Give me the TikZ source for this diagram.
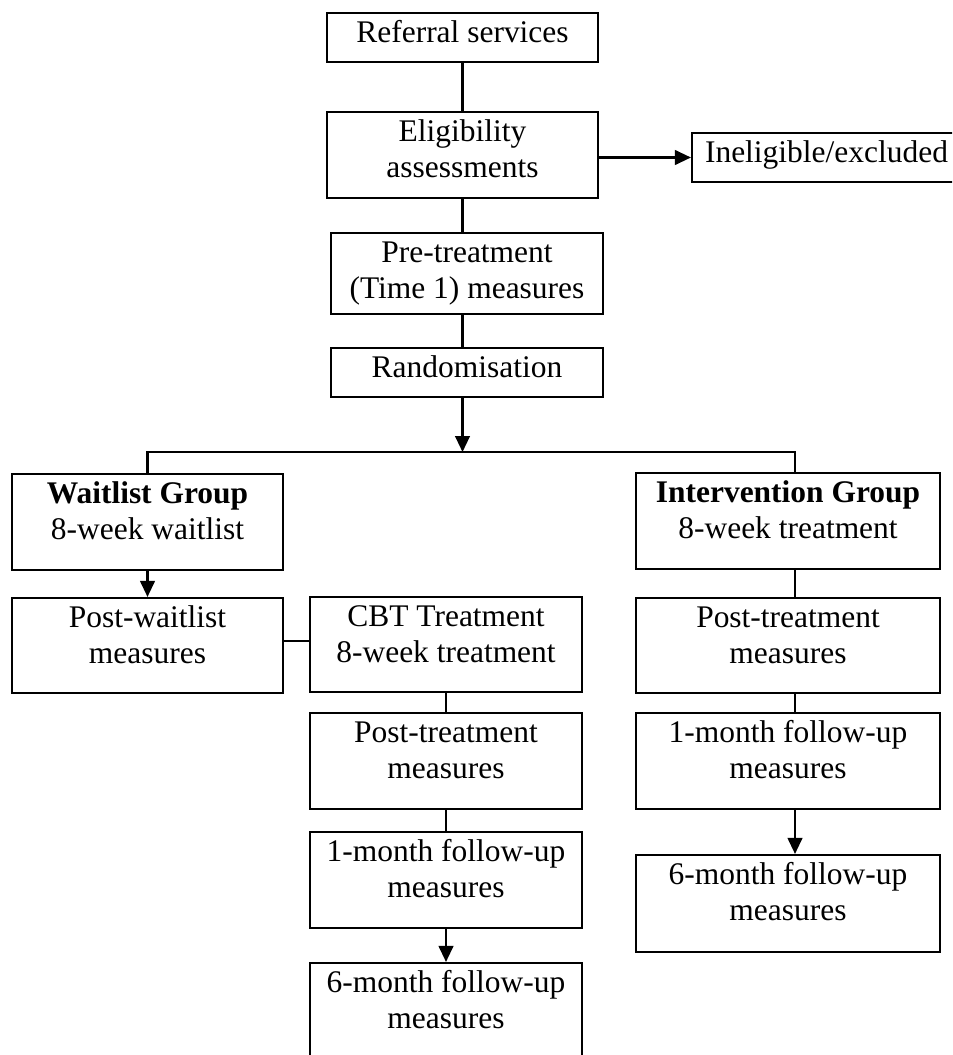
\documentclass[tikz,border=0pt]{standalone}
\usepackage{fontspec}
\setmainfont{Liberation Serif}
\usetikzlibrary{arrows.meta}
\newcommand\firstln{\rule{0pt}{20pt}}
\begin{document}
\begin{tikzpicture}[x=0.75pt,y=-0.75pt,
  bx/.style 2 args={draw, line width=1.6pt, inner sep=0pt, minimum width=#1*0.75pt, minimum height=#2*0.75pt},
  txt/.style={anchor=north, inner sep=0pt, align=center, font=\fontsize{23.6}{27}\selectfont},
  ln/.style={line width=1.6pt},
  arr/.style={line width=1.6pt, -{Triangle[length=12pt, width=11pt]}}]
\useasboundingbox (0,0) rectangle (952,1055);
\clip (0,0) rectangle (952,1055);

% boxes
\node[bx={271}{49}] (ref) at (462.5,37.5) {};
\node[bx={271}{86}] (elig) at (462.5,155) {};
\node[bx={269}{49}] (inel) at (826.5,157.5) {};
\node[bx={272}{81}] (pre) at (467,273.5) {};
\node[bx={272}{49}] (rand) at (467,372.5) {};
\node[bx={271}{96}] (wait) at (147.5,522) {};
\node[bx={304}{96}] (interv) at (788,521) {};
\node[bx={271}{95}] (postw) at (147.5,645.5) {};
\node[bx={272}{95}] (cbt) at (446,644.5) {};
\node[bx={272}{96}] (ptm) at (446,761) {};
\node[bx={272}{96}] (m1m) at (446,880) {};
\node[bx={272}{100}] (m6m) at (446,1013) {};
\node[bx={304}{95}] (ptr) at (788,645.5) {};
\node[bx={304}{96}] (m1r) at (788,761) {};
\node[bx={304}{97}] (m6r) at (788,903.5) {};

% texts
\node[txt] (ref-t) at ([yshift=-2.5pt]ref.north) {\firstln Referral services};
\node[txt] (elig-t) at ([yshift=-2.5pt]elig.north) {\firstln Eligibility\\assessments};
\node[txt] (inel-t) at ([yshift=-2.5pt]inel.north) {\firstln Ineligible/excluded};
\node[txt] (pre-t) at ([yshift=-2.5pt]pre.north) {\firstln Pre-treatment\\(Time 1) measures};
\node[txt] (rand-t) at ([yshift=-2.5pt]rand.north) {\firstln Randomisation};
\node[txt] (wait-t) at ([yshift=-2.5pt]wait.north) {\firstln\textbf{Waitlist Group}\\8-week waitlist};
\node[txt] (interv-t) at ([yshift=-2.5pt]interv.north) {\firstln\textbf{Intervention Group}\\8-week treatment};
\node[txt] (postw-t) at ([yshift=-2.5pt]postw.north) {\firstln Post-waitlist\\measures};
\node[txt] (cbt-t) at ([yshift=-2.5pt]cbt.north) {\firstln CBT Treatment\\8-week treatment};
\node[txt] (ptm-t) at ([yshift=-2.5pt]ptm.north) {\firstln Post-treatment\\measures};
\node[txt] (m1m-t) at ([yshift=-2.5pt]m1m.north) {\firstln 1-month follow-up\\measures};
\node[txt] (m6m-t) at ([yshift=-2.5pt]m6m.north) {\firstln 6-month follow-up\\measures};
\node[txt] (ptr-t) at ([yshift=-2.5pt]ptr.north) {\firstln Post-treatment\\measures};
\node[txt] (m1r-t) at ([yshift=-2.5pt]m1r.north) {\firstln 1-month follow-up\\measures};
\node[txt] (m6r-t) at ([yshift=-2.5pt]m6r.north) {\firstln 6-month follow-up\\measures};

% connectors
\coordinate (split) at (462.5,452);
\coordinate (splitL) at (147.5,452);
\coordinate (splitR) at (795,452);
\coordinate (jy) at (0,641);
\draw[ln] (ref.south) -- (elig.north);
\draw[arr] (elig.east |- inel.west) -- (inel.west);
\draw[ln] (elig.south) -- (elig.south |- pre.north);
\draw[ln] (pre.south -| split) -- (rand.north -| split);
\draw[arr] (rand.south -| split) -- (split);
\draw[ln] (wait.north) -- (splitL) -- (splitR) -- (splitR |- interv.north);
\draw[arr] (wait.south) -- (postw.north);
\draw[ln] (postw.east |- jy) -- (cbt.west |- jy);
\draw[ln] (cbt.south) -- (ptm.north);
\draw[ln] (ptm.south) -- (m1m.north);
\draw[arr] (m1m.south) -- (m6m.north);
\draw[ln] (interv.south -| splitR) -- (ptr.north -| splitR);
\draw[ln] (ptr.south -| splitR) -- (m1r.north -| splitR);
\draw[arr] (m1r.south -| splitR) -- (m6r.north -| splitR);
\end{tikzpicture}
\end{document}
